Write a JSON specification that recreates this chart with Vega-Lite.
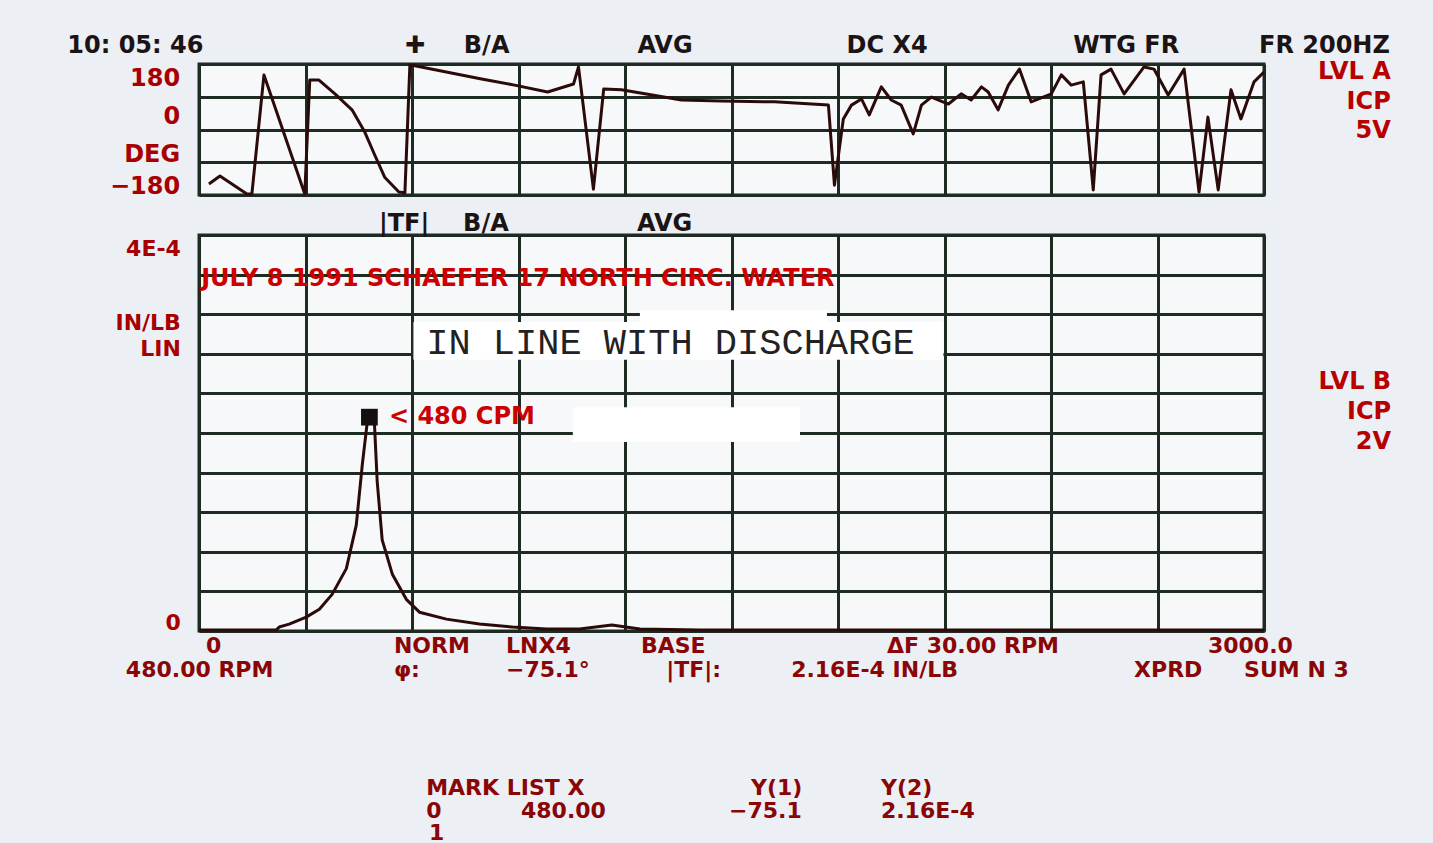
{
  "$schema": "https://vega.github.io/schema/vega-lite/v6.json",
  "background": "#eceff4",
  "padding": {"left": 65, "top": 32, "right": 60, "bottom": 10},
  "bounds": "flush",
  "spacing": 40,
  "config": {
    "view": {"stroke": "#1e2b22", "strokeWidth": 3, "fill": "#f7f8fa"},
    "axis": {"grid": true, "gridColor": "#1e2b22", "gridWidth": 3, "gridOpacity": 1, "labels": false, "ticks": false, "domain": false, "title": null}
  },
  "datasets": {
    "phase": [
      {"x": 28, "y": -150}, {"x": 59, "y": -128}, {"x": 135, "y": -177}, {"x": 149, "y": -177}, {"x": 183, "y": 150},
      {"x": 298, "y": -177}, {"x": 312, "y": 136}, {"x": 338, "y": 136}, {"x": 383, "y": 98}, {"x": 431, "y": 54},
      {"x": 467, "y": -7}, {"x": 495, "y": -70}, {"x": 523, "y": -131}, {"x": 563, "y": -172}, {"x": 580, "y": -174},
      {"x": 594, "y": 177}, {"x": 608, "y": 175}, {"x": 796, "y": 139}, {"x": 889, "y": 122}, {"x": 982, "y": 103},
      {"x": 1055, "y": 125}, {"x": 1069, "y": 172}, {"x": 1111, "y": -164}, {"x": 1140, "y": 111}, {"x": 1190, "y": 109},
      {"x": 1359, "y": 81}, {"x": 1472, "y": 78}, {"x": 1621, "y": 76}, {"x": 1773, "y": 67}, {"x": 1790, "y": -153},
      {"x": 1815, "y": 29}, {"x": 1838, "y": 67}, {"x": 1866, "y": 84}, {"x": 1888, "y": 40}, {"x": 1922, "y": 117},
      {"x": 1950, "y": 81}, {"x": 1978, "y": 67}, {"x": 2012, "y": -12}, {"x": 2035, "y": 67}, {"x": 2063, "y": 89},
      {"x": 2111, "y": 70}, {"x": 2147, "y": 98}, {"x": 2175, "y": 81}, {"x": 2204, "y": 117}, {"x": 2223, "y": 103},
      {"x": 2251, "y": 54}, {"x": 2280, "y": 122}, {"x": 2311, "y": 166}, {"x": 2344, "y": 76}, {"x": 2401, "y": 98},
      {"x": 2429, "y": 150}, {"x": 2457, "y": 122}, {"x": 2491, "y": 131}, {"x": 2519, "y": -166}, {"x": 2541, "y": 150},
      {"x": 2569, "y": 166}, {"x": 2606, "y": 98}, {"x": 2662, "y": 172}, {"x": 2690, "y": 166}, {"x": 2730, "y": 95},
      {"x": 2775, "y": 166}, {"x": 2817, "y": -172}, {"x": 2842, "y": 34}, {"x": 2871, "y": -166}, {"x": 2907, "y": 109},
      {"x": 2935, "y": 29}, {"x": 2972, "y": 131}, {"x": 3000, "y": 158}
    ],
    "mag": [
      {"x": 0, "y": 1e-6}, {"x": 217, "y": 1e-6}, {"x": 226, "y": 4e-6}, {"x": 254, "y": 7e-6}, {"x": 302, "y": 1.4e-5},
      {"x": 339, "y": 2.2e-5}, {"x": 375, "y": 3.7e-5}, {"x": 415, "y": 6.3e-5}, {"x": 443, "y": 1.07e-4}, {"x": 460, "y": 1.68e-4},
      {"x": 474, "y": 2.11e-4}, {"x": 480, "y": 2.16e-4}, {"x": 494, "y": 2.11e-4}, {"x": 502, "y": 1.51e-4}, {"x": 516, "y": 9.2e-5},
      {"x": 545, "y": 5.7e-5}, {"x": 584, "y": 3.2e-5}, {"x": 621, "y": 1.9e-5}, {"x": 697, "y": 1.2e-5}, {"x": 790, "y": 7e-6},
      {"x": 883, "y": 4e-6}, {"x": 979, "y": 2e-6}, {"x": 1072, "y": 2e-6}, {"x": 1163, "y": 6e-6}, {"x": 1242, "y": 2e-6},
      {"x": 1411, "y": 1e-6}, {"x": 3000, "y": 1e-6}
    ],
    "marker": [{"x": 480, "y": 2.16e-4}],
    "patches": [
      {"x": 604, "x2": 2097, "y": 3.12e-4, "y2": 2.74e-4},
      {"x": 1242, "x2": 1769, "y": 3.24e-4, "y2": 3.10e-4},
      {"x": 1053, "x2": 1693, "y": 2.26e-4, "y2": 1.91e-4}
    ],
    "topHeader": [
      {"x": -371, "y": 229, "t": "10: 05: 46"},
      {"x": 580, "y": 229, "t": "✚"},
      {"x": 746, "y": 229, "t": "B/A"},
      {"x": 1235, "y": 229, "t": "AVG"},
      {"x": 1824, "y": 229, "t": "DC X4"},
      {"x": 2463, "y": 229, "t": "WTG FR"},
      {"x": 2986, "y": 229, "t": "FR 200HZ"}
    ],
    "topAxisLabels": [
      {"x": -53, "y": 139, "t": "180"},
      {"x": -53, "y": 34, "t": "0"},
      {"x": -53, "y": -70, "t": "DEG"},
      {"x": -53, "y": -158, "t": "−180"}
    ],
    "topRight": [
      {"x": 3357, "y": 158, "t": "LVL A"},
      {"x": 3357, "y": 76, "t": "ICP"},
      {"x": 3357, "y": -4, "t": "5V"}
    ],
    "botHeader": [
      {"x": 507, "y": 4.11e-4, "t": "|TF|"},
      {"x": 744, "y": 4.11e-4, "t": "B/A"},
      {"x": 1234, "y": 4.11e-4, "t": "AVG"}
    ],
    "botAxisLabels": [
      {"x": -51, "y": 3.86e-4, "t": "4E-4"},
      {"x": -51, "y": 3.11e-4, "t": "IN/LB"},
      {"x": -51, "y": 2.85e-4, "t": "LIN"},
      {"x": -51, "y": 0.08e-4, "t": "0"}
    ],
    "botRight": [
      {"x": 3358, "y": 2.52e-4, "t": "LVL B"},
      {"x": 3358, "y": 2.21e-4, "t": "ICP"},
      {"x": 3358, "y": 1.91e-4, "t": "2V"}
    ],
    "botRed": [
      {"x": 6, "y": 3.56e-4, "t": "JULY 8 1991 SCHAEFER 17 NORTH CIRC. WATER"},
      {"x": 535, "y": 2.16e-4, "t": "< 480 CPM"}
    ],
    "serif": [
      {"x": 640, "y": 2.91e-4, "t": "IN LINE WITH DISCHARGE"}
    ],
    "footer": [
      {"x": 20, "y": -0.15e-4, "t": "0"},
      {"x": 549, "y": -0.15e-4, "t": "NORM"},
      {"x": 865, "y": -0.15e-4, "t": "LNX4"},
      {"x": 1245, "y": -0.15e-4, "t": "BASE"},
      {"x": 1938, "y": -0.15e-4, "t": "ΔF 30.00 RPM"},
      {"x": 2842, "y": -0.15e-4, "t": "3000.0"},
      {"x": -206, "y": -0.39e-4, "t": "480.00 RPM"},
      {"x": 549, "y": -0.39e-4, "t": "φ:"},
      {"x": 865, "y": -0.39e-4, "t": "−75.1°"},
      {"x": 1316, "y": -0.39e-4, "t": "|TF|:"},
      {"x": 1668, "y": -0.39e-4, "t": "2.16E-4 IN/LB"},
      {"x": 2634, "y": -0.39e-4, "t": "XPRD"},
      {"x": 2944, "y": -0.39e-4, "t": "SUM N 3"},
      {"x": 640, "y": -1.586e-4, "t": "MARK LIST X"},
      {"x": 1555, "y": -1.586e-4, "t": "Y(1)"},
      {"x": 1921, "y": -1.586e-4, "t": "Y(2)"},
      {"x": 640, "y": -1.818e-4, "t": "0"},
      {"x": 907, "y": -1.818e-4, "t": "480.00"},
      {"x": 1493, "y": -1.818e-4, "t": "−75.1"},
      {"x": 1921, "y": -1.818e-4, "t": "2.16E-4"},
      {"x": 648, "y": -2.04e-4, "t": "1"}
    ]
  },
  "vconcat": [
    {
      "width": 1065,
      "height": 131,
      "encoding": {
        "x": {"field": "x", "type": "quantitative", "scale": {"domain": [0, 3000], "nice": false, "zero": false}, "axis": {"values": [0, 300, 600, 900, 1200, 1500, 1800, 2100, 2400, 2700, 3000]}},
        "y": {"field": "y", "type": "quantitative", "scale": {"domain": [-180, 180], "nice": false, "zero": false}, "axis": {"values": [-180, -90, 0, 90, 180]}}
      },
      "layer": [
        {"data": {"name": "phase"}, "mark": {"type": "line", "color": "#2b0a0a", "strokeWidth": 3, "strokeJoin": "round"}},
        {"data": {"name": "topHeader"}, "mark": {"type": "text", "align": "left", "baseline": "middle", "font": "DejaVu Sans", "fontWeight": "bold", "fontSize": 24, "color": "#1c1414"}, "encoding": {"text": {"field": "t"}}},
        {"data": {"name": "topAxisLabels"}, "mark": {"type": "text", "align": "right", "baseline": "middle", "font": "DejaVu Sans", "fontWeight": "bold", "fontSize": 24, "color": "#a80000"}, "encoding": {"text": {"field": "t"}}},
        {"data": {"name": "topRight"}, "mark": {"type": "text", "align": "right", "baseline": "middle", "font": "DejaVu Sans", "fontWeight": "bold", "fontSize": 24, "color": "#b80000"}, "encoding": {"text": {"field": "t"}}}
      ]
    },
    {
      "width": 1065,
      "height": 396,
      "encoding": {
        "x": {"field": "x", "type": "quantitative", "scale": {"domain": [0, 3000], "nice": false, "zero": false}, "axis": {"values": [0, 300, 600, 900, 1200, 1500, 1800, 2100, 2400, 2700, 3000]}},
        "y": {"field": "y", "type": "quantitative", "scale": {"domain": [0, 0.0004], "nice": false, "zero": false}, "axis": {"values": [0, 0.00004, 0.00008, 0.00012, 0.00016, 0.0002, 0.00024, 0.00028, 0.00032, 0.00036, 0.0004]}}
      },
      "layer": [
        {"data": {"name": "patches"}, "mark": {"type": "rect", "color": "#ffffff", "opacity": 1}, "encoding": {"x2": {"field": "x2"}, "y2": {"field": "y2"}}},
        {"data": {"name": "mag"}, "mark": {"type": "line", "color": "#2b0a0a", "strokeWidth": 3, "strokeJoin": "round"}},
        {"data": {"name": "marker"}, "mark": {"type": "point", "shape": "square", "filled": true, "size": 280, "color": "#141010", "opacity": 1}},
        {"data": {"name": "botHeader"}, "mark": {"type": "text", "align": "left", "baseline": "middle", "font": "DejaVu Sans", "fontWeight": "bold", "fontSize": 24, "color": "#1c1414"}, "encoding": {"text": {"field": "t"}}},
        {"data": {"name": "botAxisLabels"}, "mark": {"type": "text", "align": "right", "baseline": "middle", "font": "DejaVu Sans", "fontWeight": "bold", "fontSize": 22, "color": "#a80000"}, "encoding": {"text": {"field": "t"}}},
        {"data": {"name": "botRight"}, "mark": {"type": "text", "align": "right", "baseline": "middle", "font": "DejaVu Sans", "fontWeight": "bold", "fontSize": 24, "color": "#b80000"}, "encoding": {"text": {"field": "t"}}},
        {"data": {"name": "botRed"}, "mark": {"type": "text", "align": "left", "baseline": "middle", "font": "DejaVu Sans", "fontWeight": "bold", "fontSize": 24, "color": "#cc0000"}, "encoding": {"text": {"field": "t"}}},
        {"data": {"name": "serif"}, "mark": {"type": "text", "align": "left", "baseline": "middle", "font": "Liberation Mono", "fontSize": 37, "color": "#222222"}, "encoding": {"text": {"field": "t"}}},
        {"data": {"name": "footer"}, "mark": {"type": "text", "align": "left", "baseline": "middle", "font": "DejaVu Sans", "fontWeight": "bold", "fontSize": 22, "color": "#8a0606"}, "encoding": {"text": {"field": "t"}}}
      ]
    }
  ]
}
